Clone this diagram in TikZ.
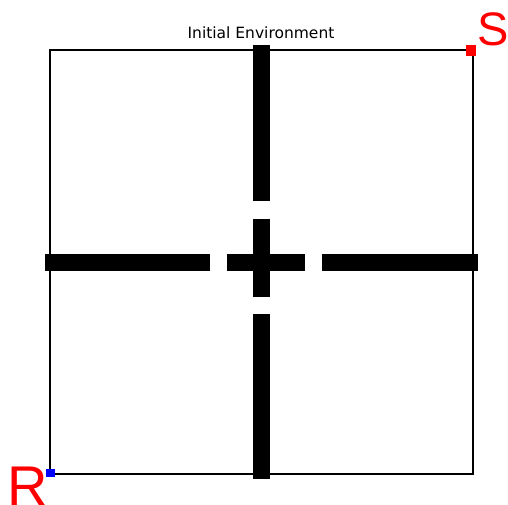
\documentclass[tikz,border=0pt]{standalone}
\usepackage{fontspec}
\setmainfont{DejaVu Sans}
\setsansfont{DejaVu Sans}
\newfontfamily\letterfont{Liberation Sans}
\usetikzlibrary{positioning}
\definecolor{startred}{RGB}{255,0,0}
\definecolor{robotblue}{RGB}{0,0,255}

\begin{document}
\begin{tikzpicture}[x=1pt, y=-1pt, font=\sffamily,
  wall/.style={fill=black},
  bigletter/.style={text=startred, inner sep=0pt, anchor=base west}]
\useasboundingbox (0,0) rectangle (508,504);
% arena border
\draw[line width=2.2pt] (50,50) rectangle (473,474);
% walls with openings
\foreach \ya/\yb in {45/201, 219/297, 314/479}
  \fill[wall] (253,\ya) rectangle (270,\yb);
\foreach \xa/\xb in {45/210, 227/305, 322/478}
  \fill[wall] (\xa,254) rectangle (\xb,271);
% markers
\fill[startred] (466,45) rectangle (476,56);
\fill[robotblue] (46,469) rectangle (55,477);
\node[anchor=base, inner sep=0pt, font=\fontsize{15.5}{16}\selectfont] (title) at (261,38) {Initial Environment};
\node[bigletter, font=\letterfont\fontsize{47}{47}\selectfont] (goal) at (477,45) {S};
\node[bigletter, font=\letterfont\fontsize{56}{56}\selectfont] (robot) at (7,505) {R};
\end{tikzpicture}
\end{document}
